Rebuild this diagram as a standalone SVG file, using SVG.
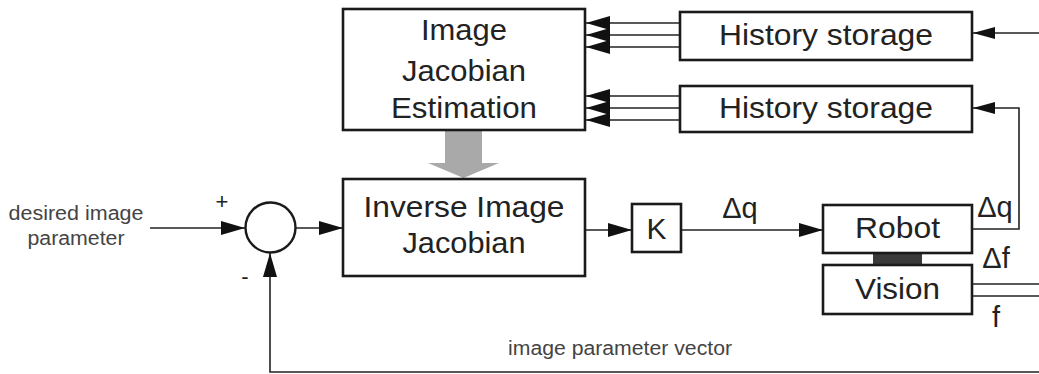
<svg xmlns="http://www.w3.org/2000/svg" width="1039" height="374" viewBox="0 0 1039 374">
<defs>
<style>
.box{fill:#fff;stroke:#1a1a1a;stroke-width:2.6}
.ln{fill:none;stroke:#222;stroke-width:1.6}
.big{font-family:"Liberation Sans",Arial,sans-serif;font-size:30px;fill:#222;text-anchor:middle}
.sm{font-family:"Liberation Sans",Arial,sans-serif;font-size:20px;fill:#444;text-anchor:middle}
.lbl{font-family:"Liberation Sans",Arial,sans-serif;font-size:29px;fill:#222;text-anchor:middle}
</style>
<marker id="arr" markerUnits="userSpaceOnUse" markerWidth="25" markerHeight="15" refX="24" refY="7" orient="auto">
<path d="M0,0 L24,7 L0,14 z" fill="#111"/>
</marker>
<marker id="arrs" markerUnits="userSpaceOnUse" markerWidth="23" markerHeight="13" refX="22" refY="6" orient="auto">
<path d="M0,0 L22,6 L0,12 z" fill="#111"/>
</marker>
</defs>
<rect width="1039" height="374" fill="#fff"/>

<g id="connectors">
<line class="ln" x1="150" y1="228" x2="245" y2="228" marker-end="url(#arr)"/>
<line class="ln" x1="296" y1="228" x2="343" y2="228" marker-end="url(#arr)"/>
<polyline class="ln" points="1039,372 270,372 270,253" marker-end="url(#arr)"/>
<line class="ln" x1="585" y1="230" x2="632" y2="230" marker-end="url(#arr)"/>
<line class="ln" x1="681" y1="230" x2="823" y2="230" marker-end="url(#arr)"/>
<polyline class="ln" points="972,229 1019,229 1019,108 973,108" marker-end="url(#arrs)"/>
<line class="ln" x1="1039" y1="33" x2="973" y2="33" marker-end="url(#arrs)"/>
<line class="ln" x1="972" y1="284" x2="1039" y2="284"/>
<line class="ln" x1="972" y1="296" x2="1039" y2="296"/>
<line class="ln" x1="680" y1="23" x2="586" y2="23" marker-end="url(#arr)"/>
<line class="ln" x1="680" y1="35" x2="586" y2="35" marker-end="url(#arr)"/>
<line class="ln" x1="680" y1="47" x2="586" y2="47" marker-end="url(#arr)"/>
<line class="ln" x1="680" y1="96" x2="586" y2="96" marker-end="url(#arr)"/>
<line class="ln" x1="680" y1="108" x2="586" y2="108" marker-end="url(#arr)"/>
<line class="ln" x1="680" y1="120" x2="586" y2="120" marker-end="url(#arr)"/>
<path d="M445,131 L482,131 L482,163 L499,163 L463.5,178 L428,163 L445,163 z" fill="#a9a9a9"/>
<rect x="873" y="253" width="49" height="12" fill="#3a3a3a"/>
</g>

<g id="sum">
<circle cx="270.5" cy="227.5" r="25" fill="#fff" stroke="#1a1a1a" stroke-width="2.4"/>
<text x="222" y="209" font-family="Liberation Sans,Arial,sans-serif" font-size="22" fill="#222" text-anchor="middle">+</text>
<text x="245" y="284" font-family="Liberation Sans,Arial,sans-serif" font-size="22" fill="#222" text-anchor="middle">-</text>
</g>

<g id="input-label">
<text class="sm" x="76" y="220" textLength="135" lengthAdjust="spacingAndGlyphs">desired image</text>
<text class="sm" x="76" y="245" textLength="97" lengthAdjust="spacingAndGlyphs">parameter</text>
</g>

<g id="feedback-label">
<text class="sm" x="620" y="355" textLength="224" lengthAdjust="spacingAndGlyphs">image parameter vector</text>
</g>

<g id="estimation">
<rect class="box" x="343" y="9" width="242" height="121"/>
<text class="big" x="464" y="40" textLength="86" lengthAdjust="spacingAndGlyphs">Image</text>
<text class="big" x="464" y="81" textLength="124" lengthAdjust="spacingAndGlyphs">Jacobian</text>
<text class="big" x="464" y="118" textLength="146" lengthAdjust="spacingAndGlyphs">Estimation</text>
</g>

<g id="inverse">
<rect class="box" x="343" y="179" width="242" height="97"/>
<text class="big" x="464" y="217" textLength="201" lengthAdjust="spacingAndGlyphs">Inverse Image</text>
<text class="big" x="464" y="253" textLength="123" lengthAdjust="spacingAndGlyphs">Jacobian</text>
</g>

<g id="gain">
<rect class="box" x="632" y="204" width="49" height="48"/>
<text class="big" x="656.5" y="239">K</text>
</g>

<g id="dq-label">
<text class="lbl" x="740" y="218">Δq</text>
</g>

<g id="robot">
<rect class="box" x="823" y="205" width="149" height="48"/>
<text class="big" x="897.5" y="238" textLength="85" lengthAdjust="spacingAndGlyphs">Robot</text>
</g>

<g id="vision">
<rect class="box" x="823" y="265" width="149" height="49"/>
<text class="big" x="897.5" y="299" textLength="85" lengthAdjust="spacingAndGlyphs">Vision</text>
</g>

<g id="out-labels">
<text class="lbl" x="995" y="217">Δq</text>
<text class="lbl" x="996" y="268">Δf</text>
<text class="lbl" x="996" y="327">f</text>
</g>

<g id="history1">
<rect class="box" x="680" y="12" width="292" height="48"/>
<text class="big" x="826" y="45" textLength="214" lengthAdjust="spacingAndGlyphs">History storage</text>
</g>

<g id="history2">
<rect class="box" x="680" y="86" width="292" height="46"/>
<text class="big" x="826" y="118" textLength="214" lengthAdjust="spacingAndGlyphs">History storage</text>
</g>
</svg>
